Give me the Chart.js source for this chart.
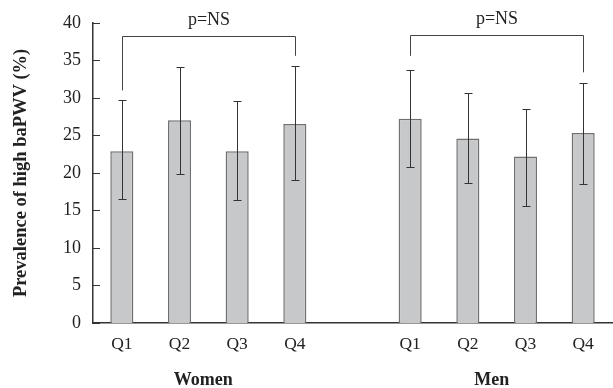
<!DOCTYPE html>
<html>
<head>
<meta charset="utf-8">
<script src="https://cdn.jsdelivr.net/npm/chart.js@4/dist/chart.umd.min.js"></script>
<style>
  html, body { margin: 0; padding: 0; background: #fff; }
  #wrap { width: 613px; height: 388px; }
</style>
</head>
<body>
<div id="wrap"><canvas id="c" width="613" height="388"></canvas></div>
<script>
// ---- Data ----
const categories = ['Q1', 'Q2', 'Q3', 'Q4', '', 'Q1', 'Q2', 'Q3', 'Q4'];
const prevalence = [22.9, 27.0, 22.9, 26.5, null, 27.2, 24.6, 22.2, 25.3];
const errUpper   = [29.7, 34.1, 29.6, 34.2, null, 33.7, 30.6, 28.5, 32.0];
const errLower   = [16.5, 19.8, 16.4, 19.0, null, 20.8, 18.6, 15.6, 18.5];
const yTicks = [0, 5, 10, 15, 20, 25, 30, 35, 40];
const groupNames = ['Women', 'Men'];
const groupFirst = [0, 5];
const groupLast  = [3, 8];
const bracketLabels = ['p=NS', 'p=NS'];
const bracketTop = [38.3, 38.4];
const bracketLeftEnd = [31.0, 35.6];
const bracketRightEnd = [35.6, 33.4];

const SERIF = '"Liberation Serif", "DejaVu Serif", serif';

const overlay = {
  id: 'overlay',
  afterDatasetsDraw(chart) {
    const ctx = chart.ctx;
    const x = chart.scales.x, y = chart.scales.y;
    const area = chart.chartArea;
    ctx.save();
    // inward y ticks
    ctx.strokeStyle = '#333';
    ctx.lineWidth = 1;
    yTicks.forEach(v => {
      const py = Math.round(y.getPixelForValue(v)) + 0.5;
      ctx.beginPath();
      ctx.moveTo(area.left, py);
      ctx.lineTo(area.left + 7, py);
      ctx.stroke();
    });
    // error bars
    ctx.strokeStyle = '#333';
    ctx.lineWidth = 1;
    for (let i = 0; i < categories.length; i++) {
      if (errUpper[i] == null) continue;
      const px = Math.round(x.getPixelForValue(i)) + 0.5;
      const pu = Math.round(y.getPixelForValue(errUpper[i])) + 0.5;
      const pl = Math.round(y.getPixelForValue(errLower[i])) + 0.5;
      ctx.beginPath();
      ctx.moveTo(px, pu); ctx.lineTo(px, pl);
      ctx.moveTo(px - 4, pu); ctx.lineTo(px + 4, pu);
      ctx.moveTo(px - 4, pl); ctx.lineTo(px + 4, pl);
      ctx.stroke();
    }
    // brackets
    ctx.strokeStyle = '#444';
    for (let b = 0; b < bracketLabels.length; b++) {
      const x1 = Math.round(x.getPixelForValue(groupFirst[b])) + 0.5;
      const x2 = Math.round(x.getPixelForValue(groupLast[b])) + 0.5;
      const yt = Math.round(y.getPixelForValue(bracketTop[b])) + 0.5;
      const yl = y.getPixelForValue(bracketLeftEnd[b]);
      const yr = y.getPixelForValue(bracketRightEnd[b]);
      ctx.beginPath();
      ctx.moveTo(x1, yl); ctx.lineTo(x1, yt); ctx.lineTo(x2, yt); ctx.lineTo(x2, yr);
      ctx.stroke();
      ctx.fillStyle = '#222';
      ctx.font = '18px ' + SERIF;
      ctx.textAlign = 'center';
      ctx.textBaseline = 'middle';
      ctx.fillText(bracketLabels[b], (x1 + x2) / 2, yt - 16);
    }
    // group labels
    ctx.fillStyle = '#222';
    ctx.font = 'bold 18px ' + SERIF;
    ctx.textAlign = 'center';
    ctx.textBaseline = 'middle';
    for (let g = 0; g < groupNames.length; g++) {
      const cx = (x.getPixelForValue(groupFirst[g]) + x.getPixelForValue(groupLast[g])) / 2 - 5;
      ctx.fillText(groupNames[g], cx, 380);
    }
    ctx.restore();
  }
};

new Chart(document.getElementById('c'), {
  type: 'bar',
  data: {
    labels: categories,
    datasets: [{
      data: prevalence,
      backgroundColor: '#c7c8ca',
      borderColor: '#707070',
      borderWidth: 1.5,
      categoryPercentage: 1.0,
      barPercentage: 0.4
    }]
  },
  options: {
    responsive: false,
    animation: false,
    devicePixelRatio: 1,
    layout: { padding: { top: 12, right: 1, left: 0, bottom: 0 } },
    plugins: { legend: { display: false }, tooltip: { enabled: false } },
    scales: {
      x: {
        grid: { display: false, drawTicks: false },
        border: { display: true, color: '#333', width: 1.5 },
        ticks: { color: '#222', font: { family: SERIF, size: 17.5 }, padding: 11, maxRotation: 0, autoSkip: false },
        afterFit(s) { s.height = 65; }
      },
      y: {
        min: 0, max: 40,
        afterBuildTicks(s) { s.ticks = yTicks.map(v => ({ value: v })); },
        grid: { display: false, drawTicks: false },
        border: { display: true, color: '#333', width: 1.5 },
        ticks: { color: '#222', font: { family: SERIF, size: 18 }, padding: 12 },
        title: { display: true, text: 'Prevalence of high baPWV (%)', color: '#222',
                 font: { family: SERIF, size: 18.5, weight: 'bold' }, padding: { top: 10, bottom: 4 } },
        afterFit(s) { s.width = 93; }
      }
    }
  },
  plugins: [overlay]
});
</script>
</body>
</html>
